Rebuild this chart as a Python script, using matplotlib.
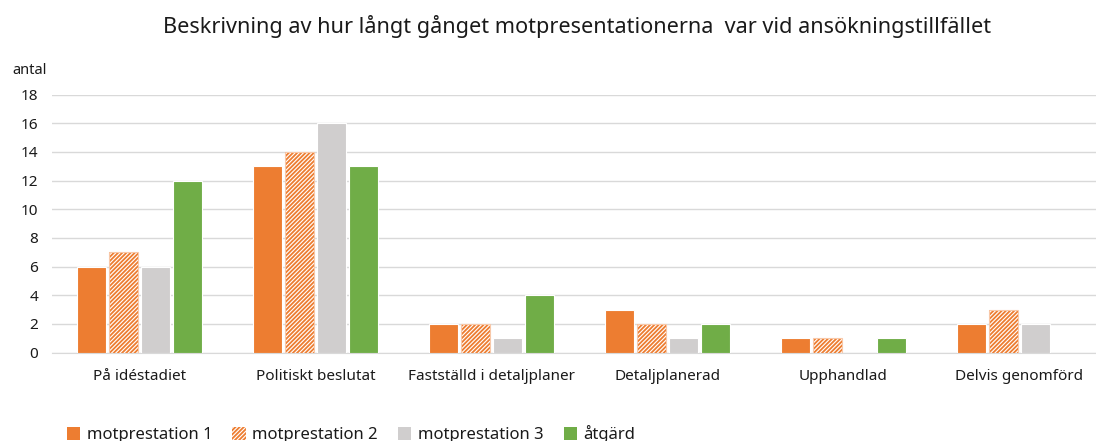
import numpy as np
import matplotlib
matplotlib.use('Agg')
import matplotlib.pyplot as plt
from matplotlib.patches import Patch

categories = ['På idéstadiet', 'Politiskt beslutat', 'Fastställd i detaljplaner',
              'Detaljplanerad', 'Upphandlad', 'Delvis genomförd']
series_names = ['motprestation 1', 'motprestation 2', 'motprestation 3', 'åtgärd']
mot1 = [6, 13, 2, 3, 1, 2]
mot2 = [7, 14, 2, 2, 1, 3]
mot3 = [6, 16, 1, 1, 0, 2]
atgard = [12, 13, 4, 2, 1, 0]

orange = '#ED7D31'
gray = '#D0CECE'
green = '#70AD47'

plt.rcParams['font.family'] = ['Noto Sans', 'DejaVu Sans']
plt.rcParams['hatch.linewidth'] = 1.3

fig = plt.figure(figsize=(10.96, 4.41), dpi=100)
# plot area runs slightly past the right edge, like the cropped original
ax = fig.add_axes([52 / 1096, 88.5 / 441, 1055 / 1096, 258 / 441])

x = np.arange(len(categories))
pitch = 0.182
w = 0.165

ax.bar(x - 1.5 * pitch, mot1, w, color=orange, edgecolor='white', linewidth=0.8, zorder=3)
ax.bar(x - 0.5 * pitch, mot2, w, color='white', edgecolor=orange, hatch='////////', linewidth=0, zorder=3)
ax.bar(x - 0.5 * pitch, mot2, w, fill=False, edgecolor='#F8C8A8', linewidth=0.8, zorder=4)
ax.bar(x + 0.5 * pitch, mot3, w, color=gray, edgecolor='white', linewidth=0.8, zorder=3)
ax.bar(x + 1.5 * pitch, atgard, w, color=green, edgecolor='white', linewidth=0.8, zorder=3)

ax.set_xlim(-0.5, len(categories) - 0.5)
ax.set_ylim(0, 18)
ax.set_yticks(range(0, 19, 2))
ax.set_xticks(x)
ax.set_xticklabels(categories, fontsize=11, color='#1a1a1a')
ax.tick_params(axis='y', labelsize=11, labelcolor='#1a1a1a', length=0, pad=10)
ax.tick_params(axis='x', length=0, pad=12)
ax.yaxis.grid(True, color='#D9D9D9', linewidth=1, zorder=0)
for s in ['top', 'right', 'left']:
    ax.spines[s].set_visible(False)
ax.spines['bottom'].set_color('#D9D9D9')

fig.text(12 / 1096, 1 - 70 / 441, 'antal', fontsize=10.5, color='#1a1a1a', va='center')
fig.text(577 / 1096, 1 - 27 / 441,
         'Beskrivning av hur långt gånget motpresentationerna  var vid ansökningstillfället',
         fontsize=15.6, ha='center', va='center', color='#1a1a1a')

handles = [
    Patch(facecolor=orange, edgecolor='none'),
    Patch(facecolor='white', edgecolor=orange, hatch='////////', linewidth=0),
    Patch(facecolor=gray, edgecolor='none'),
    Patch(facecolor=green, edgecolor='none'),
]
fig.legend(handles, series_names, loc='center left', bbox_to_anchor=(60 / 1096, 1 - 434 / 441),
           ncol=4, frameon=False, fontsize=12, handlelength=0.8, handleheight=0.8,
           handletextpad=0.4, columnspacing=1.2, borderaxespad=0, labelcolor='#1a1a1a')

fig.savefig('out.png', dpi=100)
